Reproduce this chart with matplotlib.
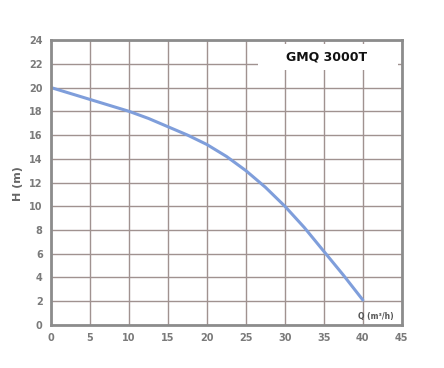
import matplotlib
matplotlib.use("Agg")
import matplotlib.pyplot as plt
from matplotlib.patches import Rectangle

# Data
flow_q = [0, 2.5, 5, 7.5, 10, 12.5, 15, 17.5, 20, 22.5, 25, 27.5, 30, 32.5, 35, 37.5, 40]
head_h = [20.0, 19.5, 19.0, 18.5, 18.0, 17.4, 16.7, 16.0, 15.2, 14.2, 13.0, 11.6, 10.0, 8.2, 6.2, 4.2, 2.1]
x_ticks = [0, 5, 10, 15, 20, 25, 30, 35, 40, 45]
y_ticks = [0, 2, 4, 6, 8, 10, 12, 14, 16, 18, 20, 22, 24]
title_text = "GMQ 3000T"
x_label = "Q (m³/h)"
y_label = "H (m)"

fig = plt.figure(figsize=(4.44, 3.68), dpi=100)
ax = fig.add_axes([0.115, 0.117, 0.79, 0.774])

grid_c = "#a09290"
ax.set_xlim(0, 45)
ax.set_ylim(0, 24)
ax.set_xticks(x_ticks)
ax.set_yticks(y_ticks)
ax.grid(True, color=grid_c, lw=1.0, zorder=0)
ax.set_axisbelow(True)

for s in ax.spines.values():
    s.set_color("#8c8c8c")
    s.set_linewidth(2.0)

ax.tick_params(length=0, pad=6, labelsize=7, labelcolor="#7a7a7a")
for lab in ax.get_xticklabels() + ax.get_yticklabels():
    lab.set_fontweight("bold")

# white panel behind the title
ax.add_patch(Rectangle((0.59, 0.895), 0.40, 0.09, transform=ax.transAxes,
                       facecolor="white", edgecolor="none", zorder=1))
ax.text(0.785, 0.94, title_text, transform=ax.transAxes, ha="center", va="center",
        fontsize=9, fontweight="bold", color="#111111", zorder=3)

ax.plot(flow_q, head_h, color="#7f9edb", lw=2.2, zorder=2, solid_capstyle="round")

ax.text(0.925, 0.03, x_label, transform=ax.transAxes, ha="center", va="center",
        fontsize=5.5, fontweight="bold", color="#555555", zorder=3)

fig.text(0.04, 0.5, y_label, rotation=90, ha="center", va="center",
         fontsize=8, fontweight="bold", color="#666666")

fig.savefig("out.png", dpi=100, facecolor="white")
